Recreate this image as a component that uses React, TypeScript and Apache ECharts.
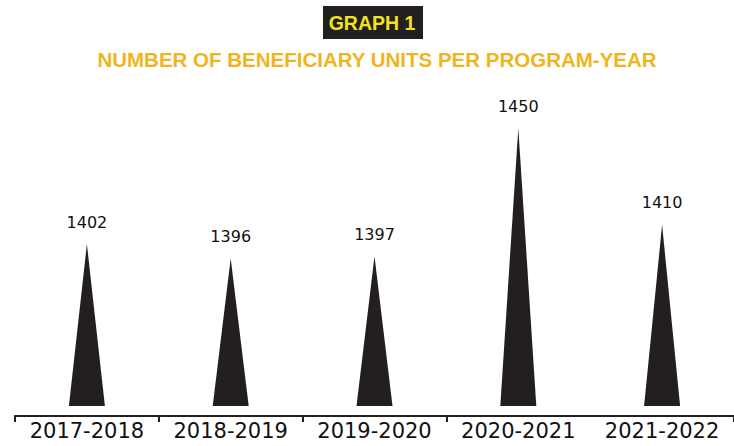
import React, { useEffect, useRef } from "react";
import * as echarts from "echarts";

const categories = ["2017-2018", "2018-2019", "2019-2020", "2020-2021", "2021-2022"];
const units = [1402, 1396, 1397, 1450, 1410];
const titleText = "GRAPH 1";
const subtitleText = "NUMBER OF BENEFICIARY UNITS PER PROGRAM-YEAR";

const DARK = "#231f20";
const YELLOW = "#f3e21a";
const GOLD = "#efb521";
const Y_MIN = 1335;
const Y_MAX = 1472;

export default function App() {
  const ref = useRef<HTMLDivElement>(null);
  useEffect(() => {
    document.body.style.margin = "0";
    if (!ref.current) return;
    const chart = echarts.init(ref.current, null, { renderer: "svg" });
    chart.setOption({
      animation: false,
      backgroundColor: "#ffffff",
      graphic: [
        {
          type: "rect",
          shape: { x: 323, y: 6, width: 100, height: 33 },
          style: { fill: DARK },
        },
        {
          type: "text",
          x: 372,
          y: 23,
          style: {
            text: titleText,
            fill: YELLOW,
            font: "bold 19.5px 'Liberation Sans', Arial, sans-serif",
            align: "center",
            verticalAlign: "middle",
          },
        },
        {
          type: "text",
          x: 377,
          y: 59,
          style: {
            text: subtitleText,
            fill: GOLD,
            font: "bold 20.5px 'Liberation Sans', Arial, sans-serif",
            align: "center",
            verticalAlign: "middle",
          },
        },
      ],
      grid: { left: 15, right: -3.5, top: 75, bottom: 40, containLabel: false },
      xAxis: {
        type: "category",
        data: categories,
        offset: 10,
        boundaryGap: true,
        axisLine: { show: true, lineStyle: { color: DARK, width: 2 } },
        axisTick: {
          show: true,
          length: 6,
          interval: (i: number) => i !== 4,
          lineStyle: { color: DARK, width: 2 },
        },
        axisLabel: {
          color: "#111111",
          fontFamily: "'DejaVu Sans', sans-serif",
          fontSize: 21,
          margin: 4,
          interval: 0,
        },
      },
      yAxis: {
        type: "value",
        min: Y_MIN,
        max: Y_MAX,
        show: false,
        splitLine: { show: false },
      },
      series: [
        {
          type: "custom",
          data: units.map((v, i) => [i, v]),
          encode: { x: 0, y: 1 },
          renderItem: (params: any, api: any) => {
            const idx = api.value(0);
            const val = api.value(1);
            const top = api.coord([idx, val]);
            const base = api.coord([idx, Y_MIN]);
            const half = 18;
            return {
              type: "group",
              children: [
                {
                  type: "polygon",
                  shape: {
                    points: [
                      [top[0], top[1]],
                      [base[0] + half, base[1]],
                      [base[0] - half, base[1]],
                    ],
                  },
                  style: { fill: DARK },
                },
                {
                  type: "text",
                  x: top[0],
                  y: top[1] - 14,
                  style: {
                    text: String(val),
                    fill: "#111111",
                    font: "16px 'DejaVu Sans', sans-serif",
                    align: "center",
                    verticalAlign: "bottom",
                  },
                },
              ],
            };
          },
        },
      ],
    });
    return () => chart.dispose();
  }, []);
  return <div ref={ref} style={{ width: 734, height: 446 }} />;
}
